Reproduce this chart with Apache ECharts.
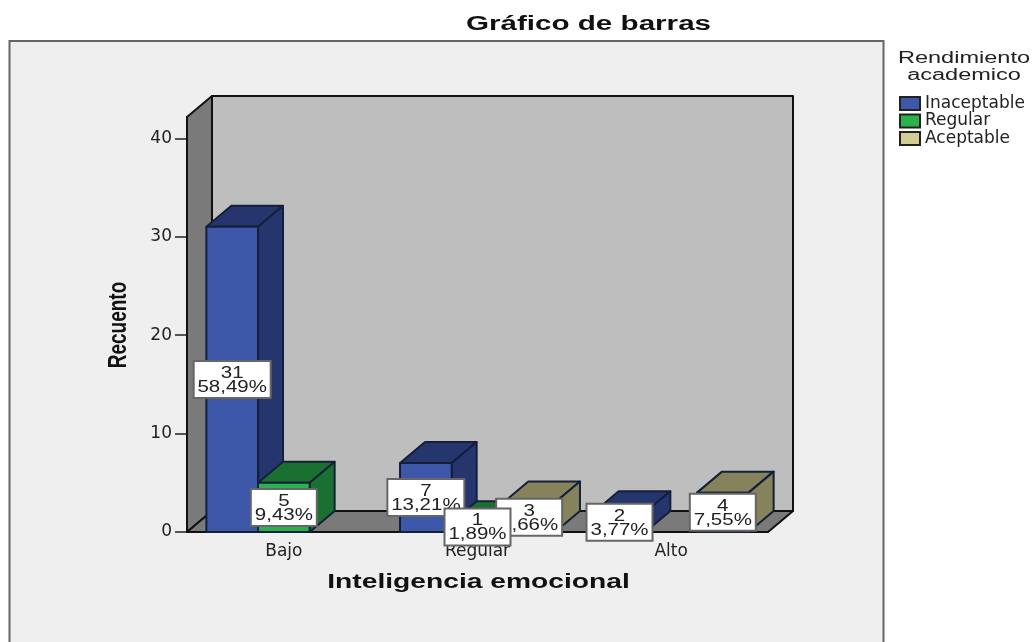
<!DOCTYPE html>
<html>
<head>
<meta charset="utf-8">
<style>
  html, body { margin: 0; padding: 0; background: #fff; }
  #chart { width: 1036px; height: 642px; }
</style>
<script src="https://cdn.jsdelivr.net/npm/echarts@6/dist/echarts.min.js"></script>
</head>
<body>
<div id="chart"></div>
<script>
const categories = ['Bajo', 'Regular', 'Alto']
const inaceptable = [31, 7, 2]
const regular = [5, 1, null]
const aceptable = [null, 3, 4]
const inaceptablePct = ['58,49%', '13,21%', '3,77%']
const regularPct = ['9,43%', '1,89%', null]
const aceptablePct = [null, '5,66%', '7,55%']
const yTicks = [0, 10, 20, 30, 40]
const yMax = 42.16

// depth of the fake 3d box, in px
const depthX = 25
const depthY = -21
const barRatio = 0.8 / 3

const myChart = echarts.init(document.getElementById('chart'))

function shift (p) {
  return [p[0] + depthX, p[1] + depthY]
}

function pairs (values) {
  return values.map((v, i) => [i, v]).filter(d => d[1] !== null)
}

function barX (api, i, slot) {
  const band = api.size([1, 0])[0]
  const w = band * barRatio
  return api.coord([i, 0])[0] - 1.5 * w + slot * w
}

function wallItem (params, api) {
  const band = api.size([1, 0])[0]
  const left = api.coord([0, 0])[0] - band / 2
  const right = api.coord([categories.length - 1, 0])[0] + band / 2
  const topY = api.coord([0, yMax])[1]
  const baseY = api.coord([0, 0])[1]
  const a = [left, topY]
  const b = [right, topY]
  const c = [right, baseY]
  const d = [left, baseY]
  const line = { stroke: '#111', lineWidth: 2, lineJoin: 'round' }
  return {
    type: 'group',
    children: [
      { type: 'polygon', shape: { points: [shift(a), shift(b), shift(c), shift(d)] }, style: { fill: '#bebebe', ...line } },
      { type: 'polygon', shape: { points: [a, shift(a), shift(d), d] }, style: { fill: '#7a7a7a', ...line } },
      { type: 'polygon', shape: { points: [d, c, shift(c), shift(d)] }, style: { fill: '#7a7a7a', ...line } }
    ]
  }
}

function barSeries (name, values, slot, front, dark) {
  return {
    name: name,
    type: 'custom',
    clip: false,
    z: 3,
    itemStyle: { color: front, borderColor: '#222', borderWidth: 1.5 },
    encode: { x: 0, y: 1 },
    data: pairs(values),
    renderItem (params, api) {
      const i = api.value(0)
      const x0 = barX(api, i, slot)
      const x1 = barX(api, i, slot + 1)
      const top = api.coord([i, api.value(1)])[1]
      const base = api.coord([i, 0])[1]
      const line = { stroke: '#14203a', lineWidth: 2, lineJoin: 'round' }
      return {
        type: 'group',
        children: [
          { type: 'polygon', shape: { points: [[x0, top], [x1, top], shift([x1, top]), shift([x0, top])] }, style: { fill: dark, ...line } },
          { type: 'polygon', shape: { points: [[x1, top], shift([x1, top]), shift([x1, base]), [x1, base]] }, style: { fill: dark, ...line } },
          { type: 'rect', shape: { x: x0, y: top, width: x1 - x0, height: base - top }, style: { fill: front, ...line } }
        ]
      }
    }
  }
}

function labelSeries (values, pct, slot, z) {
  return {
    type: 'custom',
    clip: false,
    silent: true,
    z: z,
    encode: { x: 0, y: 1 },
    data: pairs(values),
    renderItem (params, api) {
      const i = api.value(0)
      const v = api.value(1)
      const cx = (barX(api, i, slot) + barX(api, i, slot + 1)) / 2
      const cy = api.coord([i, v / 2])[1]
      const text = pct[i]
      const boxW = text.length > 5 ? 77 : 66
      const boxH = 37
      return {
        type: 'group',
        children: [
          { type: 'rect', shape: { x: cx - boxW / 2, y: cy - boxH / 2, width: boxW, height: boxH }, style: { fill: '#fff', stroke: '#666', lineWidth: 2 } },
          { type: 'text', x: cx, y: cy + 1, scaleX: 1.28, style: { text: v + '\n' + text, fill: '#222', font: '16px "Liberation Sans"', lineHeight: 14, textAlign: 'center', textVerticalAlign: 'middle' } }
        ]
      }
    }
  }
}

const option = {
  backgroundColor: '#fff',
  animation: false,
  grid: { left: 187, top: 117, width: 581, height: 415, containLabel: false },
  graphic: [
    { type: 'rect', z: -1, shape: { x: 9.5, y: 41, width: 874, height: 640 }, style: { fill: '#efefef', stroke: '#666', lineWidth: 2 } },
    { type: 'text', z: 10, x: 588.5, y: 24, scaleX: 1.48, style: { text: 'Gráfico de barras', fill: '#111', font: 'bold 20px "Liberation Sans"', textAlign: 'center', textVerticalAlign: 'middle' } },
    { type: 'text', z: 10, x: 478.5, y: 582, scaleX: 1.41, style: { text: 'Inteligencia emocional', fill: '#111', font: 'bold 20px "Liberation Sans"', textAlign: 'center', textVerticalAlign: 'middle' } },
    { type: 'text', z: 10, x: 118.5, y: 325, rotation: Math.PI / 2, scaleX: 0.73, style: { text: 'Recuento', fill: '#111', font: 'bold 26px "Liberation Sans"', textAlign: 'center', textVerticalAlign: 'middle' } },
    { type: 'text', z: 10, x: 964, y: 67, scaleX: 1.47, style: { text: 'Rendimiento\nacademico', fill: '#222', font: '16px "Liberation Sans"', lineHeight: 17, textAlign: 'center', textVerticalAlign: 'middle' } }
  ],
  legend: {
    orient: 'vertical',
    left: 899,
    top: 95,
    itemWidth: 20,
    itemHeight: 13,
    itemGap: 0.5,
    icon: 'rect',
    selectedMode: false,
    padding: 0,
    data: ['Inaceptable', 'Regular', 'Aceptable'],
    textStyle: { fontFamily: 'DejaVu Sans', fontSize: 17, color: '#222' }
  },
  xAxis: {
    type: 'category',
    data: categories,
    axisLine: { lineStyle: { color: '#222', width: 2 } },
    axisTick: { alignWithLabel: true, length: 7, lineStyle: { color: '#222', width: 1.5 } },
    axisLabel: { fontFamily: 'DejaVu Sans', fontSize: 17, color: '#222', margin: 11 }
  },
  yAxis: {
    type: 'value',
    min: 0,
    max: yMax,
    axisLine: { show: true, lineStyle: { color: '#222', width: 2 } },
    axisTick: { show: true, length: 12, customValues: yTicks, lineStyle: { color: '#222', width: 1.5 } },
    axisLabel: { fontFamily: 'DejaVu Sans', fontSize: 17, color: '#222', margin: 15, padding: [4, 0, 0, 0], customValues: yTicks },
    splitLine: { show: false }
  },
  series: [
    { type: 'custom', silent: true, clip: false, z: 1, encode: { x: 0, y: 1 }, data: [[0, yMax]], renderItem: wallItem },
    barSeries('Inaceptable', inaceptable, 0, '#3d58a8', '#25366e'),
    barSeries('Regular', regular, 1, '#2ab34a', '#1a7030'),
    barSeries('Aceptable', aceptable, 2, '#d2cd96', '#85825c'),
    labelSeries(inaceptable, inaceptablePct, 0, 10),
    labelSeries(aceptable, aceptablePct, 2, 11),
    labelSeries(regular, regularPct, 1, 12)
  ]
}

myChart.setOption(option)
</script>
</body>
</html>
